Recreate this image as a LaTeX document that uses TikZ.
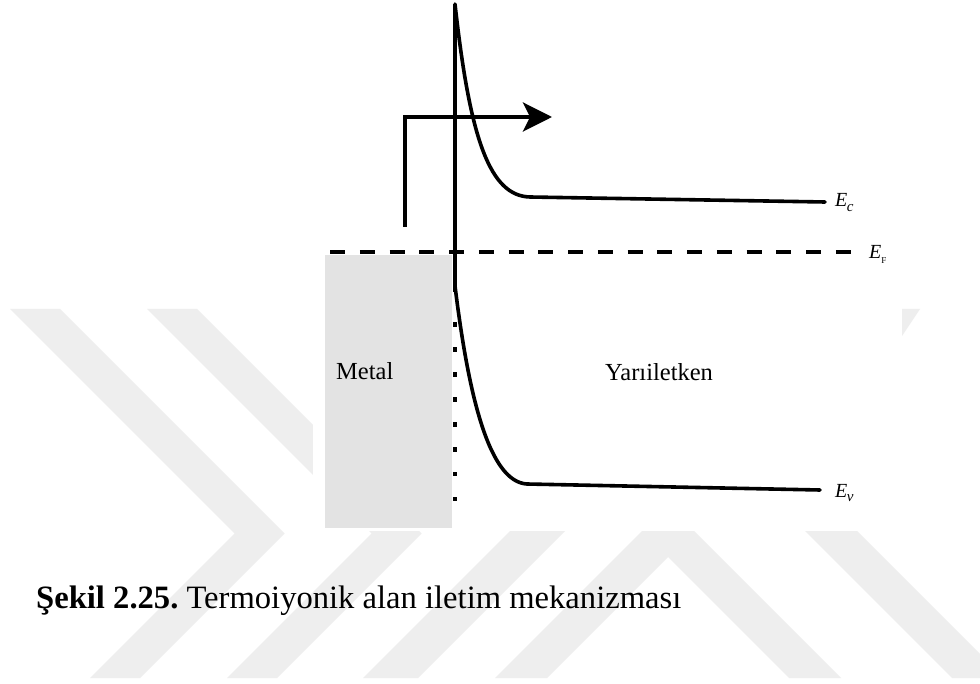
\documentclass[tikz,border=0pt]{standalone}
\usepackage{fontspec}
\setmainfont{Liberation Serif}
\newfontfamily\timesfont{Liberation Serif}
\usetikzlibrary{arrows.meta}
\definecolor{wmgray}{HTML}{EEEEEE}
\definecolor{metalgray}{HTML}{E3E3E3}
\tikzset{
  band/.style={line width=3.6, line cap=round, line join=round},
  wm/.style={fill=wmgray, draw=none},
  elabel/.style={anchor=base west, inner sep=0pt, font=\timesfont\fontsize{20}{20}\selectfont},
  txt/.style={anchor=base west, inner sep=0pt, font=\timesfont\fontsize{24.5}{28}\selectfont},
}
\begin{document}
\begin{tikzpicture}[x=1pt,y=-1pt]
\useasboundingbox (0,0) rectangle (980,684);
\fill[white] (0,0) rectangle (980,684);
% watermark
\begin{scope}
\clip (0,309) rectangle (980,678);
\fill[wm] (10,309) -- (60,309) -- (284.5,533.5) -- (140,678) -- (90,678) -- (234.5,533.5) -- cycle;
\fill[wm] (147,309) -- (197,309) -- (421.5,533.5) -- (277,678) -- (227,678) -- (371.5,533.5) -- cycle;
\fill[wm] (363,678) -- (418,678) -- (787,309) -- (732,309) -- cycle;
\fill[wm] (495,678) -- (668,505) -- (841,678) -- (789,678) -- (668,557) -- (547,678) -- cycle;
\fill[wm] (583,309) -- (635,309) -- (1004,678) -- (952,678) -- cycle;
\fill[wm] (902,309) -- (920,309) -- (902,336) -- cycle;
\end{scope}
% figure area
\fill[white] (313,0) rectangle (901,531);
% metal block
\fill[metalgray] (325,255) rectangle (452,528);
% Fermi level
\coordinate (fa) at (330,252);
\coordinate (fb) at (852,252);
\draw[line width=4.8, dash pattern=on 15 off 14.76] (fa) -- (fb);
% interface line
\coordinate (top) at (455,4);
\coordinate (bot) at (455,292);
\draw[band, line cap=butt] (top) -- (bot);
% conduction band
\coordinate (ec0) at (455,4);
\coordinate (ec1) at (530,197);
\coordinate (ec2) at (825,202);
\draw[band] (ec0) .. controls (470,140) and (490,196) .. (ec1) -- (ec2);
% valence band
\coordinate (ev0) at (455,286);
\coordinate (ev1) at (527,484);
\coordinate (ev2) at (820,490);
\draw[band] (ev0) .. controls (469,400) and (490,482) .. (ev1) -- (ev2);
% interface states (dots)
\foreach \i in {0,...,7}{
  \fill ({452.5},{322.5+24.9*\i}) rectangle ++(4.5,4.5);
}
% thermionic arrow
\coordinate (as) at (405,227);
\coordinate (ae) at (552,117);
\draw[line width=3.6, -{Stealth[length=29,width=29,inset=7]}] (as) |- (ae);
% labels
\node[elabel] (lec) at (835,207) {\itshape E\kern-0.5pt\raisebox{-4.5pt}{\fontsize{15}{15}\selectfont c}};
\node[elabel] (lef) at (869,259) {\itshape E\raisebox{-5pt}{\upshape\fontsize{9}{9}\selectfont F}};
\node[elabel] (lev) at (835,497) {\itshape E\kern-0.5pt\raisebox{-4.5pt}{\fontsize{15}{15}\selectfont v}};
\node[txt] (metal) at (336,380) {Metal};
\node[txt] (semi) at (605,381) {Yarıiletken};
\node[anchor=base west, inner sep=0pt, font=\timesfont\fontsize{32.6}{36}\selectfont] (cap) at (36,608) {\frenchspacing\textbf{Şekil 2.25.}\ Termoiyonik alan iletim mekanizması};
\end{tikzpicture}
\end{document}
